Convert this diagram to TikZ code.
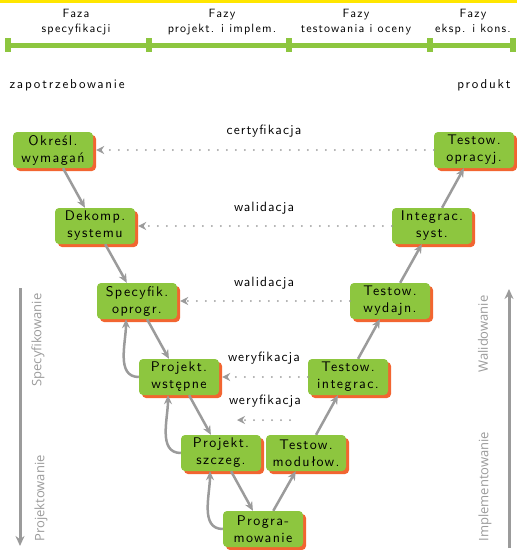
\documentclass[tikz,border=0pt]{standalone}
\usepackage{fontspec}
\newfontfamily\sidefont{Open Sans}
\newfontfamily\vsans{lmsans10-regular.otf}[LetterSpace=8]
\newfontfamily\vsanswide{lmsans10-regular.otf}[LetterSpace=10]
\newfontfamily\vsanswider{lmsans10-regular.otf}[LetterSpace=14]
\usetikzlibrary{arrows.meta,shadows}

\definecolor{vgreen}{RGB}{141,198,63}
\definecolor{vorange}{RGB}{242,101,49}
\definecolor{vgray}{RGB}{155,155,155}
\definecolor{vyellow}{RGB}{255,230,0}

\tikzset{
  phaselabel/.style={align=center, font=\vsanswide\fontsize{12}{15}\selectfont},
  endlabel/.style={font=\vsanswider\fontsize{13}{15}\selectfont},
  stagebox/.style={fill=vgreen, rounded corners=4pt, minimum width=80pt,
    minimum height=36pt, inner sep=1pt, align=center,
    font=\vsanswide\fontsize{14}{17}\selectfont,
    general shadow={fill=vorange, shadow xshift=3pt, shadow yshift=-3pt}},
  flow/.style={vgray, line width=2.5pt, -{Stealth[length=9pt,width=8pt]}},
  check/.style={vgray, line width=2pt, dash pattern=on 0pt off 9pt,
    line cap=round, -{Stealth[length=8pt,width=8pt]}},
  checklabel/.style={font=\vsans\fontsize{13.5}{15}\selectfont},
  sidearrow/.style={vgray, line width=3pt, -{Stealth[length=10pt,width=9pt]}},
  sidelabel/.style={vgray, rotate=90, font=\sidefont\fontsize{13}{15}\selectfont}
}

\begin{document}
\begin{tikzpicture}[x=1pt,y=-1pt]

  \useasboundingbox (0,0) rectangle (517,550);

  % top strip and phase line
  \fill[vyellow] (0,0) rectangle (517,3);
  \draw[vgreen, line width=5pt] (8,45) -- (513,45);
  \foreach \t in {8,149,289,430,513}
    \fill[vgreen] (\t-3,38) rectangle (\t+3,52);

  \node[phaselabel] (ph1) at (76,22)  {Faza\\specyfikacji};
  \node[phaselabel] (ph2) at (222,22) {Fazy\\projekt. i implem.};
  \node[phaselabel] (ph3) at (356,22) {Fazy\\testowania i oceny};
  \node[phaselabel] (ph4) at (473,22) {Fazy\\eksp. i kons.};

  \node[endlabel, anchor=west] (need) at (6,85)  {zapotrzebowanie};
  \node[endlabel, anchor=east] (prod) at (514,85) {produkt};

  % left branch
  \node[stagebox] (req)  at (53,150)  {Określ.\\wymagań};
  \node[stagebox] (dec)  at (95,226)  {Dekomp.\\systemu};
  \node[stagebox] (spec) at (137,301) {Specyfik.\\oprogr.};
  \node[stagebox] (prel) at (179,377) {Projekt.\\wstępne};
  \node[stagebox] (det)  at (221,453) {Projekt.\\szczeg.};
  \node[stagebox] (code) at (263,529) {Progra-\\mowanie};

  % right branch
  \node[stagebox] (unit) at (306,453) {Testow.\\modułow.};
  \node[stagebox] (intg) at (348,377) {Testow.\\integrac.};
  \node[stagebox] (perf) at (390,301) {Testow.\\wydajn.};
  \node[stagebox] (sys)  at (432,226) {Integrac.\\syst.};
  \node[stagebox] (oper) at (474,150) {Testow.\\opracyj.};

  % down the V
  \draw[flow] (req) -- (dec);
  \draw[flow] (dec) -- (spec);
  \draw[flow] (spec) -- (prel);
  \draw[flow] (prel) -- (det);
  \draw[flow] (det) -- (code);

  % up the V
  \draw[flow] (code) -- (unit);
  \draw[flow] (unit) -- (intg);
  \draw[flow] (intg) -- (perf);
  \draw[flow] (perf) -- (sys);
  \draw[flow] (sys) -- (oper);

  % feedback loops
  \draw[flow] (prel.west) to[out=180,in=-90] ([xshift=-11pt]spec.south);
  \draw[flow] (det.west)  to[out=180,in=-90] ([xshift=-11pt]prel.south);
  \draw[flow] (code.west) to[out=180,in=-90] ([xshift=-11pt]det.south);

  % checks across the V
  \draw[check] (oper.west) -- ([xshift=3pt]req.east);
  \draw[check] (sys.west)  -- ([xshift=3pt]dec.east);
  \draw[check] (perf.west) -- ([xshift=3pt]spec.east);
  \draw[check] (intg.west) -- ([xshift=3pt]prel.east);
  \coordinate (vfrom) at (290,420);
  \coordinate (vto)   at (237,420);
  \draw[check] (vfrom) -- (vto);

  \node[checklabel] (c1) at (264,131) {certyfikacja};
  \node[checklabel] (c2) at (264,208) {walidacja};
  \node[checklabel] (c3) at (264,283) {walidacja};
  \node[checklabel] (c4) at (264,358) {weryfikacja};
  \node[checklabel] (c5) at (265,401) {weryfikacja};

  % side arrows
  \coordinate (ltop) at (20,288);
  \coordinate (lbot) at (20,546);
  \coordinate (rbot) at (509,548);
  \coordinate (rtop) at (509,289);
  \draw[sidearrow] (ltop) -- (lbot);
  \draw[sidearrow] (rbot) -- (rtop);

  \node[sidelabel, anchor=east] (sp) at (38,290)  {Specyfikowanie};
  \node[sidelabel, anchor=west] (pr) at (41,545)  {Projektowanie};
  \node[sidelabel, anchor=east] (wa) at (483,292) {Walidowanie};
  \node[sidelabel, anchor=west] (im) at (485,545) {Implementowanie};

\end{tikzpicture}
\end{document}
